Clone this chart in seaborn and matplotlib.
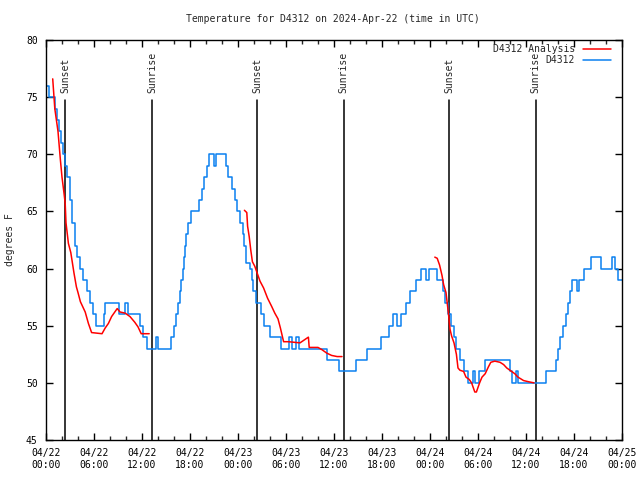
import matplotlib
matplotlib.use("Agg")
import matplotlib.pyplot as plt
import matplotlib.dates as mdates
import matplotlib.transforms as mtrans
from matplotlib.lines import Line2D
import seaborn as sns
import pandas as pd
import numpy as np

# ---------------- data ----------------
title = "Temperature for D4312 on 2024-Apr-22 (time in UTC)"
station = "D4312"

blue_hours = [
    0.0, 0.4, 1.1, 1.4, 1.6, 1.9, 2.1, 2.4, 2.6, 3.0,
    3.3, 3.6, 3.9, 4.2, 4.6, 5.1, 5.5, 5.9, 6.3, 7.2,
    7.4, 9.15, 9.85, 10.2, 11.7, 12.1, 12.6, 13.7, 14.0, 15.6,
    16.0, 16.3, 16.5, 16.7, 16.9, 17.1, 17.25, 17.4, 17.5, 17.7,
    18.1, 19.1, 19.5, 19.8, 20.1, 20.4, 21.0, 21.3, 22.5, 22.8,
    23.2, 23.6, 23.9, 24.2, 24.6, 24.8, 25.0, 25.5, 25.7, 25.9,
    26.3, 26.9, 27.3, 28.0, 29.4, 30.35, 30.7, 31.3, 31.65, 35.1,
    36.6, 38.75, 40.1, 41.9, 42.85, 43.35, 43.9, 44.4, 45.0, 45.5,
    46.2, 46.9, 47.5, 47.85, 48.85, 49.6, 49.9, 50.2, 50.6, 50.95,
    51.3, 51.7, 52.2, 52.7, 53.35, 53.65, 54.1, 54.85, 57.95, 58.3,
    58.7, 59.0, 62.5, 63.75, 63.95, 64.2, 64.6, 65.0, 65.2, 65.45,
    65.8, 66.35, 66.65, 67.3, 68.1, 69.4, 70.75, 71.1, 71.5, 72.0]
blue_temp = [
    76, 75, 74, 73, 72, 71, 70, 69, 68, 66,
    64, 62, 61, 60, 59, 58, 57, 56, 55, 56,
    57, 56, 57, 56, 55, 54, 53, 54, 53, 54,
    55, 56, 57, 58, 59, 60, 61, 62, 63, 64,
    65, 66, 67, 68, 69, 70, 69, 70, 69, 68,
    67, 66, 65, 64, 63, 62, 60.5, 60, 59, 58,
    57, 56, 55, 54, 53, 54, 53, 54, 53, 52,
    51, 52, 53, 54, 55, 56, 55, 56, 57, 58,
    59, 60, 59, 60, 59, 58, 57, 56, 55, 54,
    53, 52, 51, 50, 51, 50, 51, 52, 51, 50,
    51, 50, 51, 52, 53, 54, 55, 56, 57, 58,
    59, 58, 59, 60, 61, 60, 61, 60, 59, 59]

red1_hours = [0.84, 1.1, 1.3, 1.5, 1.8, 2.0, 2.25, 2.4, 2.5, 2.8,
              3.1, 3.3, 3.5, 3.8, 4.0, 4.3, 4.9, 5.3, 5.7, 7.0,
              7.4, 7.8, 8.2, 8.6, 8.9, 9.25, 9.9, 10.5, 11.1, 11.5,
              11.9, 12.9]
red1_temp = [76.6, 74.0, 73.0, 72.0, 69.5, 68.0, 66.6, 65.7, 64.0, 62.2,
             61.4, 60.5, 59.6, 58.4, 57.9, 57.1, 56.2, 55.2, 54.4, 54.3,
             54.8, 55.2, 55.8, 56.2, 56.5, 56.2, 56.1, 55.8, 55.3, 54.9,
             54.3, 54.3]
red2_hours = [24.8, 25.1, 25.2, 25.4, 25.6, 25.8, 26.1, 26.4, 26.75, 27.2,
              27.7, 28.2, 28.6, 29.0, 29.3, 29.7, 30.3, 31.75, 32.8, 32.9,
              34.0, 34.5, 35.1, 35.7, 36.4, 37.0]
red2_temp = [65.1, 64.9, 63.7, 62.8, 61.6, 60.6, 60.2, 59.6, 58.9, 58.3,
             57.4, 56.7, 56.1, 55.6, 54.8, 53.6, 53.6, 53.5, 54.0, 53.1,
             53.1, 52.9, 52.6, 52.4, 52.3, 52.3]
red3_hours = [48.6, 48.9, 49.2, 49.5, 49.7, 50.0, 50.3, 50.5, 50.7, 51.0,
              51.3, 51.5, 51.75, 52.2, 52.5, 52.9, 53.2, 53.6, 53.8, 54.2,
              54.5, 54.9, 55.3, 55.6, 56.1, 56.75, 57.2, 57.6, 58.0, 58.6,
              59.0, 59.7, 60.3, 61.0]
red3_temp = [61.0, 60.9, 60.3, 59.4, 58.6, 57.9, 56.1, 54.7, 54.1, 53.5,
             52.5, 51.3, 51.1, 51.0, 50.5, 50.3, 50.0, 49.2, 49.2, 50.0,
             50.5, 50.8, 51.4, 51.8, 51.9, 51.8, 51.6, 51.3, 51.1, 50.8,
             50.5, 50.2, 50.1, 50.0]

sunset_hours = [2.4, 26.4, 50.4]
sunrise_hours = [13.3, 37.2, 61.2]

y_ticks = [45, 50, 55, 60, 65, 70, 75, 80]
base = pd.Timestamp("2024-04-22 00:00")
end = pd.Timestamp("2024-04-25 00:00")

# ---------------- plot ----------------
sns.set_style("ticks")
plt.rcParams["font.family"] = ["DejaVu Sans Mono"]
FS = 7

def to_time(h):
    return base + pd.to_timedelta(np.asarray(h, dtype=float), unit="h")

RED = "#ff0000"
BLUE = "#0a80f0"

fig = plt.figure(figsize=(6.4, 4.8), dpi=100)
ax = fig.add_axes([46 / 640, 40 / 480, 576 / 640, 400 / 480])

# vertical sun lines
for h in sunset_hours + sunrise_hours:
    ax.axvline(to_time([h])[0], ymin=0, ymax=0.85, color="black", lw=1.1, zorder=1)
trans = mtrans.blended_transform_factory(ax.transData, ax.transAxes)
for h in sunset_hours:
    ax.text(to_time([h])[0], 0.868, "Sunset", rotation=90, ha="center", va="bottom",
            fontsize=FS, transform=trans)
for h in sunrise_hours:
    ax.text(to_time([h])[0], 0.868, "Sunrise", rotation=90, ha="center", va="bottom",
            fontsize=FS, transform=trans)

for hrs, tmp in [(red1_hours, red1_temp), (red2_hours, red2_temp), (red3_hours, red3_temp)]:
    df = pd.DataFrame({"time": to_time(hrs), "temp": tmp})
    sns.lineplot(data=df, x="time", y="temp", color=RED, lw=1.1, ax=ax,
                 estimator=None, sort=False, zorder=3)

bdf = pd.DataFrame({"time": to_time(blue_hours), "temp": blue_temp})
sns.lineplot(data=bdf, x="time", y="temp", color=BLUE, lw=1.1, ax=ax,
             estimator=None, sort=False, drawstyle="steps-post", zorder=2)

ax.set_xlim(base, end)
ax.set_ylim(45, 80)
ax.set_yticks(y_ticks)
ax.set_xlabel("")
ax.set_ylabel("")
ax.xaxis.set_major_locator(mdates.HourLocator(byhour=[0, 6, 12, 18]))
ax.xaxis.set_minor_locator(mdates.HourLocator(byhour=list(range(0, 24, 2))))
ax.xaxis.set_major_formatter(mdates.DateFormatter("%m/%d\n%H:%M"))
ax.tick_params(axis="both", which="major", direction="in", length=5, width=1,
               top=True, right=True, labelsize=FS, colors="black")
ax.tick_params(axis="x", which="minor", direction="in", length=3, width=1,
               top=True, bottom=True)
ax.tick_params(axis="x", which="major", pad=6)
ax.tick_params(axis="y", which="major", pad=6)
for s in ax.spines.values():
    s.set_visible(True)
    s.set_linewidth(1)
    s.set_color("black")

handles = [Line2D([], [], color=RED, lw=1.1), Line2D([], [], color=BLUE, lw=1.1)]
ax.legend(handles, [station + " Analysis", station], loc="upper right",
          bbox_to_anchor=((611 - 46) / 576, (440 - 44) / 400), markerfirst=False,
          frameon=False, handlelength=2.9, handletextpad=0.8, labelspacing=0.15,
          borderpad=0, borderaxespad=0, fontsize=FS)

fig.text(333 / 640, 1 - 19 / 480, title, ha="center", va="center", fontsize=FS)
fig.text(10 / 640, 0.5, "degrees F", rotation=90, ha="center", va="center", fontsize=FS)

fig.savefig("out.png", dpi=100, facecolor="white")
